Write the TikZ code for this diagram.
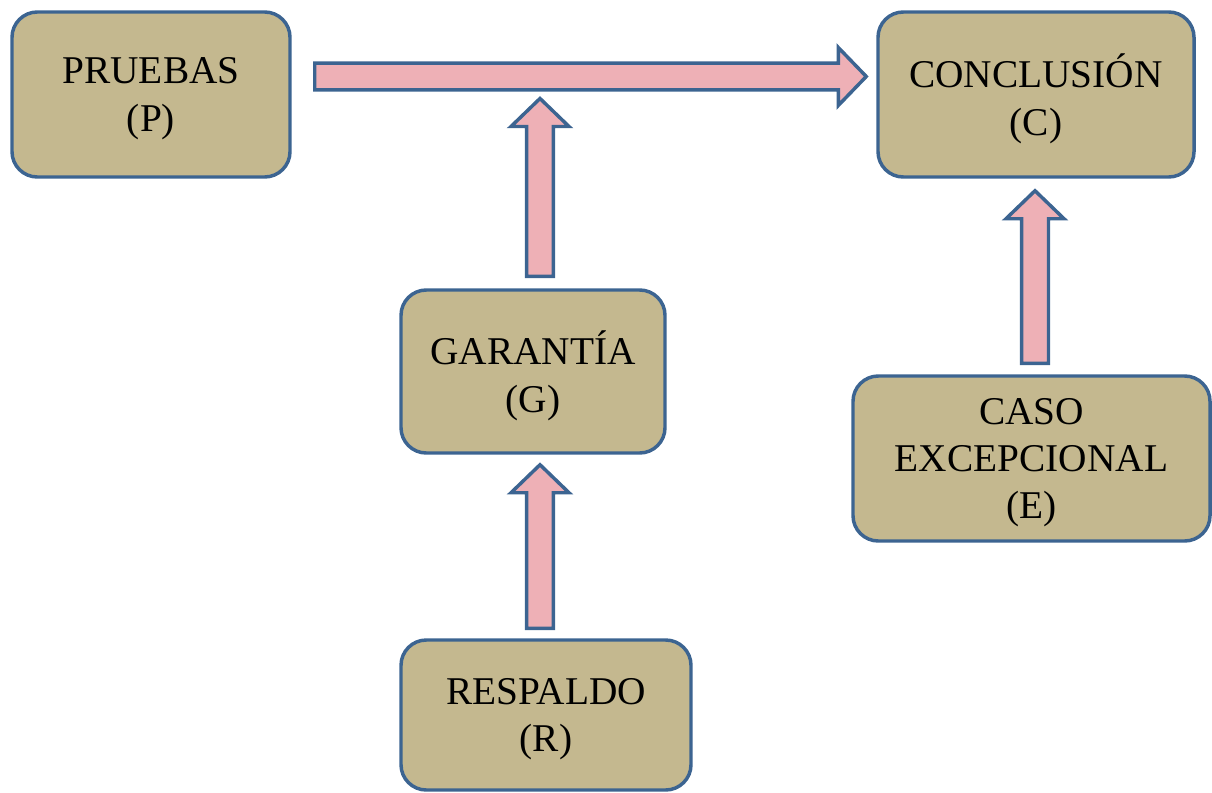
\documentclass[tikz,border=0pt]{standalone}
\usepackage{fontspec}
\setmainfont{Liberation Serif}
\usepackage{xcolor}
\usepackage{tikz}
\usetikzlibrary{calc}
\definecolor{boxtan}{RGB}{196,184,143}
\definecolor{edgeblue}{RGB}{60,100,145}
\definecolor{arrowpink}{RGB}{238,176,182}
\tikzset{
    tan_node/.style = {align=center, inner sep=0pt, text centered, text depth=0pt, draw=edgeblue, fill=boxtan, line width=2.6pt, rounded corners=19pt, font=\fontsize{29.5}{35.5}\selectfont},
    fat_arrow/.style = {draw=edgeblue, fill=arrowpink, line width=2.6pt, line join=miter}
}
% block arrow from #1 to #2
\newcommand{\fatarrow}[2]{%
    \coordinate (fa_b) at ($(#2)!21pt!(#1)$);
    \draw[fat_arrow] ($(#1)!10.1pt!90:(#2)$) -- ($(fa_b)!10.1pt!-90:(#1)$) -- ($(fa_b)!21.75pt!-90:(#1)$)
        -- (#2) -- ($(fa_b)!21.75pt!90:(#1)$) -- ($(fa_b)!10.1pt!90:(#1)$) -- ($(#1)!10.1pt!-90:(#2)$) -- cycle;
}

\begin{document}
\begin{tikzpicture}[x=0.75pt, y=-0.75pt]
    \useasboundingbox (0,0) rectangle (1212,792);

    \node [tan_node, minimum width=208.5pt, minimum height=123.75pt] (P) at (151,94.5) {PRUEBAS\\(P)};
    \node [tan_node, minimum width=237pt, minimum height=123.75pt] (C) at (1036,94.5) {CONCLUSIÓN\\(C)};
    \node [tan_node, minimum width=198pt, minimum height=122.25pt] (G) at (533,371.5) {GARANTÍA\\(G)};
    \node [tan_node, minimum width=267.75pt, minimum height=123.75pt] (E) at (1031.5,458.5) {CASO\\EXCEPCIONAL\\(E)};
    \node [tan_node, minimum width=217.5pt, minimum height=112.5pt] (R) at (546,715) {RESPALDO\\(R)};

    \coordinate (pc_start) at ($(P.east)+(23,-18)$);
    \coordinate (pc_end) at ($(C.west)+(-10,-18)$);
    \fatarrow{pc_start}{pc_end}

    \coordinate (g_start) at ($(G.north)+(7,-12)$);
    \coordinate (g_end) at ($(G.north |- pc_start)+(7,22)$);
    \fatarrow{g_start}{g_end}

    \coordinate (r_start) at ($(R.north)+(-6,-10)$);
    \coordinate (r_end) at ($(G.south)+(7,10)$);
    \fatarrow{r_start}{r_end}

    \coordinate (e_start) at ($(E.north)+(3.5,-11)$);
    \coordinate (e_end) at ($(C.south)+(-1,12)$);
    \fatarrow{e_start}{e_end}
\end{tikzpicture}
\end{document}
